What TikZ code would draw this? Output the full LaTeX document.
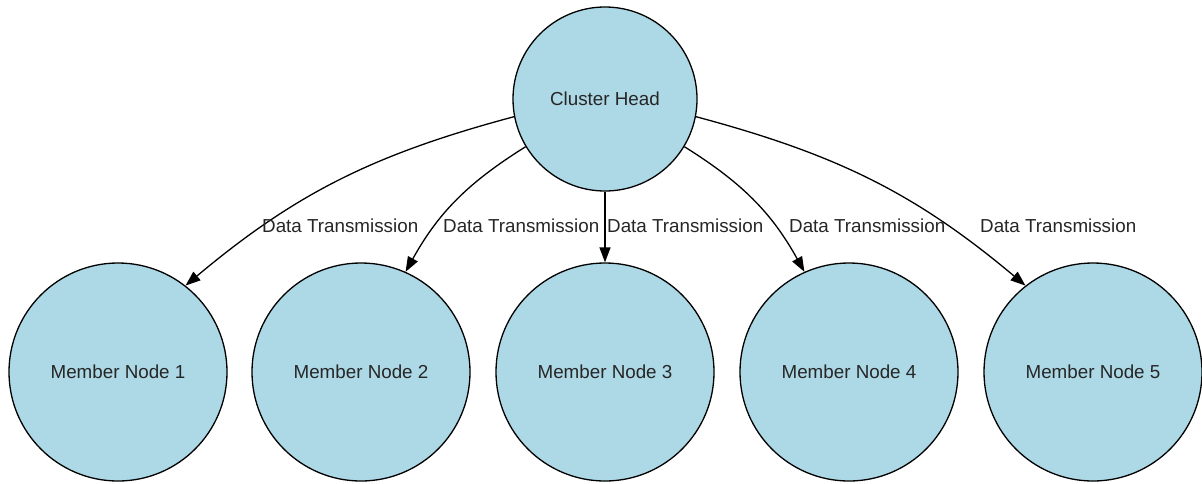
\documentclass[tikz,border=0pt]{standalone}
\usepackage{fontspec}
\setmainfont{Liberation Sans}
\usetikzlibrary{arrows.meta}
\definecolor{nodeblue}{HTML}{ADD8E6}
\tikzset{
    headnode/.style={circle, draw=black, line width=1.3pt, fill=nodeblue, minimum size=184pt, inner sep=0pt, text=black!85},
    membernode/.style={circle, draw=black, line width=1.3pt, fill=nodeblue, minimum size=218pt, inner sep=0pt, text=black!85},
    link/.style={line width=1.3pt, -{Triangle[length=15pt,width=11pt]}},
    linklabel/.style={anchor=west, inner sep=0pt, text=black!85}
}
\begin{document}
\begin{tikzpicture}[x=1pt, y=-1pt, font=\fontsize{18.8}{22}\selectfont]
        \useasboundingbox (0,0) rectangle (1202,483);

        % Define the cluster head
        \node[headnode] (head) at (605,99) {Cluster Head};

        % Define the member nodes
        \node[membernode] (m1) at (118,372) {Member Node 1};
        \node[membernode] (m2) at (361,372) {Member Node 2};
        \node[membernode] (m3) at (605,372) {Member Node 3};
        \node[membernode] (m4) at (849,372) {Member Node 4};
        \node[membernode] (m5) at (1093,372) {Member Node 5};

        % Draw the links
        \draw[link] (head.191) to[out=195, in=40] (m1.52);
        \draw[link] (head.211) to[out=212, in=61] (m2.66);
        \draw[link] (head) -- (m3);
        \draw[link] (head.329) to[out=328, in=119] (m4.114);
        \draw[link] (head.349) to[out=345, in=140] (m5.128);

        % Add labels for the links
        \node[linklabel] (l1) at (262,226) {Data Transmission};
        \node[linklabel] (l2) at (443,226) {Data Transmission};
        \node[linklabel] (l3) at (607,226) {Data Transmission};
        \node[linklabel] (l4) at (789,226) {Data Transmission};
        \node[linklabel] (l5) at (980,226) {Data Transmission};

    \end{tikzpicture}
\end{document}
